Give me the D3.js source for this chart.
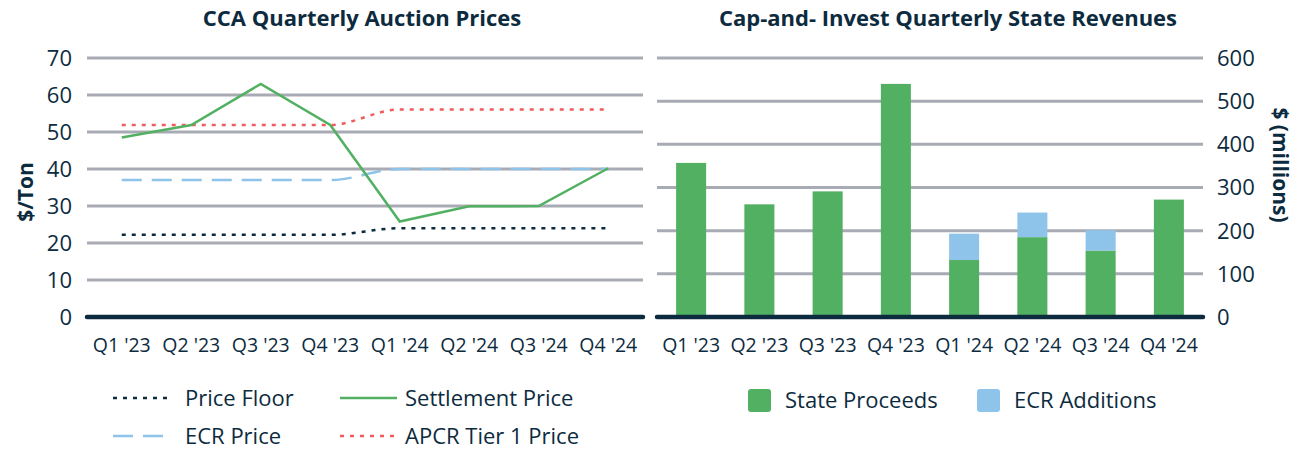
<!doctype html>
<html>
<head>
<meta charset="utf-8">
<script src="https://cdn.jsdelivr.net/npm/d3@7"></script>
<style>
  body { margin: 0; background: #fff; }
  text { font-family: "Open Sans", Lato, sans-serif; fill: #0d2b3e; }
</style>
</head>
<body>
<div id="viz"></div>
<script>

// data
var quarters = ["Q1 '23", "Q2 '23", "Q3 '23", "Q4 '23", "Q1 '24", "Q2 '24", "Q3 '24", "Q4 '24"];

var priceFloor = [22.2, 22.2, 22.2, 22.2, 24.0, 24.0, 24.0, 24.0];
var settlementPrice = [48.5, 51.9, 63.0, 51.9, 25.8, 29.9, 30.0, 40.2];
var ecrPrice = [37.0, 37.0, 37.0, 37.0, 40.0, 40.0, 40.0, 40.0];
var apcrTier1 = [51.9, 51.9, 51.9, 51.9, 56.1, 56.1, 56.1, 56.1];

var stateProceeds = [357, 261, 291, 540, 132, 185, 154, 272];
var ecrAdditions = [0, 0, 0, 0, 61, 57, 47, 0];

var priceTicks = [0, 10, 20, 30, 40, 50, 60, 70];
var revenueTicks = [0, 100, 200, 300, 400, 500, 600];

var navy = '#0d2b3e';
var grid = '#a9abb4';
var green = '#52b062';
var blue = '#8ec3ea';
var red = '#f05b5b';

var svg = d3.select('#viz').append('svg')
  .attr('width', 1299)
  .attr('height', 450)

var plotTop = 58, plotBottom = 317

// ---------- left chart: prices ----------
var x1 = d3.scaleBand().domain(quarters).range([87, 643])
var y1 = d3.scaleLinear().domain([0, 70]).range([plotBottom, plotTop])

svg.append('text')
  .attr('x', 362).attr('y', 26)
  .attr('text-anchor', 'middle')
  .style('font-weight', 'bold').style('font-size', '22px')
  .text('CCA Quarterly Auction Prices')

svg.selectAll('.grid1')
  .data(priceTicks.filter(function(d) { return d > 0; }))
  .enter().append('line')
  .attr('x1', 87).attr('x2', 643)
  .attr('y1', function(d) { return y1(d); })
  .attr('y2', function(d) { return y1(d); })
  .style('stroke', grid).style('stroke-width', 3)

svg.selectAll('.ylab1')
  .data(priceTicks)
  .enter().append('text')
  .attr('x', 72)
  .attr('y', function(d) { return y1(d); })
  .attr('dy', '0.36em')
  .attr('text-anchor', 'end')
  .style('font-size', '22px')
  .text(function(d) { return d; })

svg.append('text')
  .attr('transform', 'translate(33,192) rotate(-90)')
  .attr('text-anchor', 'middle')
  .style('font-weight', 'bold').style('font-size', '21px')
  .text('$/Ton')

var cx = function(d, i) { return x1(quarters[i]) + x1.bandwidth() / 2; }

var series = [
  { name: 'Price Floor', values: priceFloor, color: navy, dash: '4,6', curve: d3.curveMonotoneX },
  { name: 'ECR Price', values: ecrPrice, color: blue, dash: '20,10', curve: d3.curveMonotoneX },
  { name: 'APCR Tier 1 Price', values: apcrTier1, color: red, dash: '4,6', curve: d3.curveMonotoneX },
  { name: 'Settlement Price', values: settlementPrice, color: green, dash: null, curve: d3.curveLinear }
]

series.forEach(function(s) {
  var line = d3.line()
    .x(cx)
    .y(function(d) { return y1(d); })
    .curve(s.curve)
  svg.append('path')
    .attr('d', line(s.values))
    .style('fill', 'none')
    .style('stroke', s.color)
    .style('stroke-width', 2.5)
    .style('stroke-dasharray', s.dash)
})

svg.append('line')
  .attr('x1', 87).attr('x2', 643)
  .attr('y1', y1(0)).attr('y2', y1(0))
  .style('stroke', navy).style('stroke-width', 4.5)
  .style('stroke-linecap', 'round')

svg.selectAll('.xlab1')
  .data(quarters)
  .enter().append('text')
  .attr('x', function(d) { return x1(d) + x1.bandwidth() / 2; })
  .attr('y', 352)
  .attr('text-anchor', 'middle')
  .style('font-size', '19.5px')
  .text(function(d) { return d; })

// legend left
var legend1 = [
  { s: series[0], x: 113, tx: 185, y: 398 },
  { s: series[3], x: 340, tx: 405, y: 398 },
  { s: series[1], x: 113, tx: 185, y: 436 },
  { s: series[2], x: 340, tx: 405, y: 436 }
]
legend1.forEach(function(l) {
  svg.append('line')
    .attr('x1', l.x).attr('x2', l.x + 57)
    .attr('y1', l.y).attr('y2', l.y)
    .style('stroke', l.s.color).style('stroke-width', 2.5)
    .style('stroke-dasharray', l.s.dash)
  svg.append('text')
    .attr('x', l.tx).attr('y', l.y)
    .attr('dy', '0.36em')
    .style('font-size', '22px')
    .text(l.s.name)
})

// ---------- right chart: revenues ----------
var x2 = d3.scaleBand().domain(quarters).range([657, 1203]).paddingInner(0.56).paddingOuter(0.28)
var y2 = d3.scaleLinear().domain([0, 600]).range([plotBottom, plotTop])

svg.append('text')
  .attr('x', 948).attr('y', 26)
  .attr('text-anchor', 'middle')
  .style('font-weight', 'bold').style('font-size', '22px')
  .text('Cap-and- Invest Quarterly State Revenues')

svg.selectAll('.grid2')
  .data(revenueTicks.filter(function(d) { return d > 0; }))
  .enter().append('line')
  .attr('x1', 657).attr('x2', 1203)
  .attr('y1', function(d) { return y2(d); })
  .attr('y2', function(d) { return y2(d); })
  .style('stroke', grid).style('stroke-width', 3)

svg.selectAll('.ylab2')
  .data(revenueTicks)
  .enter().append('text')
  .attr('x', 1217)
  .attr('y', function(d) { return y2(d); })
  .attr('dy', '0.36em')
  .style('font-size', '22px')
  .text(function(d) { return d; })

svg.append('text')
  .attr('transform', 'translate(1273,165) rotate(90)')
  .attr('text-anchor', 'middle')
  .style('font-weight', 'bold').style('font-size', '21px')
  .text('$ (millions)')

svg.selectAll('.barGreen')
  .data(stateProceeds)
  .enter().append('rect')
  .attr('x', function(d, i) { return x2(quarters[i]); })
  .attr('width', x2.bandwidth())
  .attr('y', function(d) { return y2(d); })
  .attr('height', function(d) { return y2(0) - y2(d); })
  .style('fill', green)

svg.selectAll('.barBlue')
  .data(ecrAdditions)
  .enter().append('rect')
  .attr('x', function(d, i) { return x2(quarters[i]); })
  .attr('width', x2.bandwidth())
  .attr('y', function(d, i) { return y2(stateProceeds[i] + d); })
  .attr('height', function(d, i) { return y2(stateProceeds[i]) - y2(stateProceeds[i] + d); })
  .style('fill', blue)

svg.append('line')
  .attr('x1', 657).attr('x2', 1203)
  .attr('y1', y2(0)).attr('y2', y2(0))
  .style('stroke', navy).style('stroke-width', 4.5)
  .style('stroke-linecap', 'round')

svg.selectAll('.xlab2')
  .data(quarters)
  .enter().append('text')
  .attr('x', function(d) { return x2(d) + x2.bandwidth() / 2; })
  .attr('y', 352)
  .attr('text-anchor', 'middle')
  .style('font-size', '19.5px')
  .text(function(d) { return d; })

var legend2 = [
  { name: 'State Proceeds', color: green, x: 748 },
  { name: 'ECR Additions', color: blue, x: 977 }
]
legend2.forEach(function(l) {
  svg.append('rect')
    .attr('x', l.x).attr('y', 389)
    .attr('width', 23).attr('height', 23)
    .attr('rx', 3)
    .style('fill', l.color)
  svg.append('text')
    .attr('x', l.x + 37).attr('y', 400)
    .attr('dy', '0.36em')
    .style('font-size', '22px')
    .text(l.name)
})

</script>
</body>
</html>
